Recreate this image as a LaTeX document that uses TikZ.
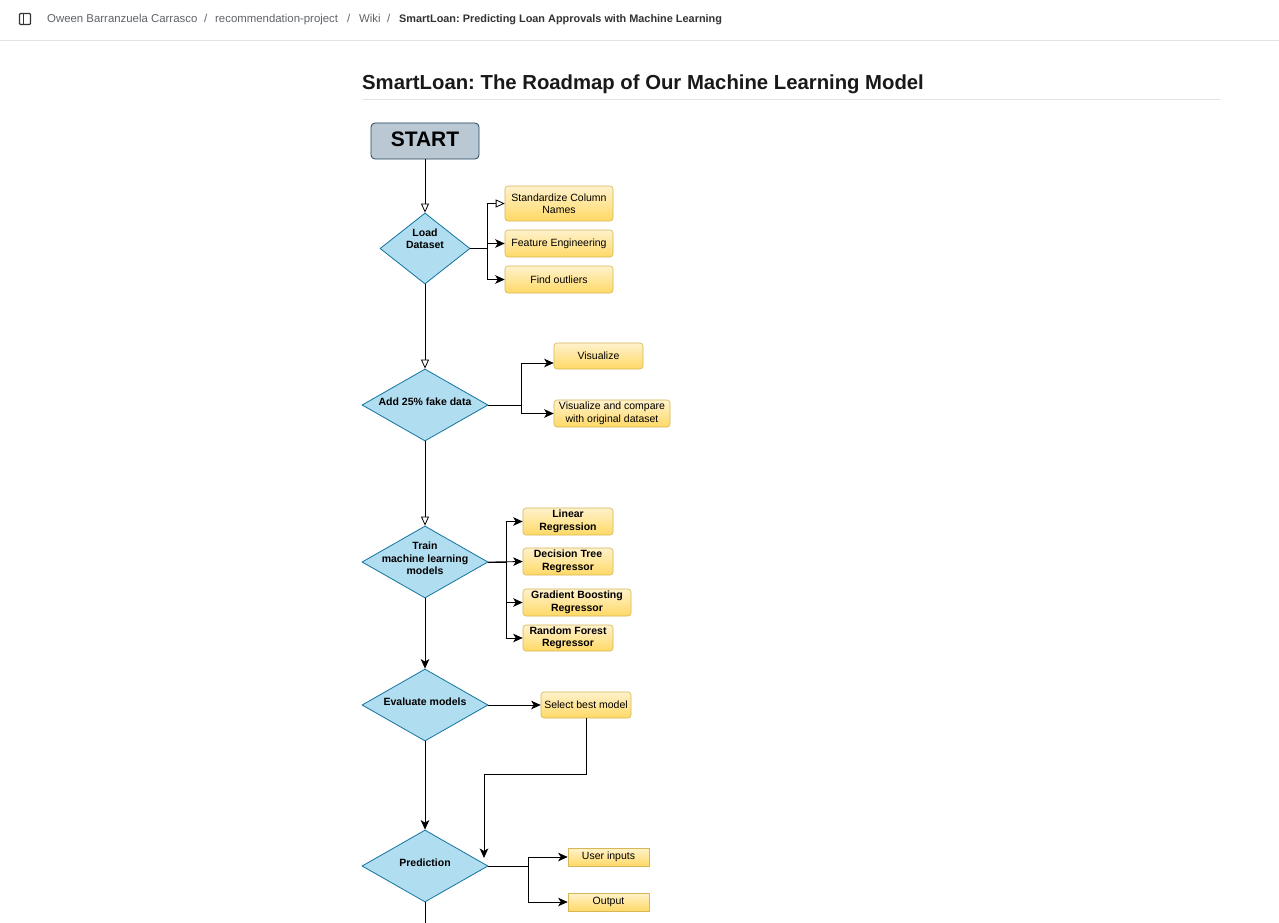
\documentclass[tikz,border=0pt]{standalone}
\usepackage{fontspec}
\setmainfont{Liberation Sans}
\usetikzlibrary{arrows.meta,shapes.geometric,calc}
\definecolor{diaFill}{HTML}{B1DDF0}
\definecolor{diaStroke}{HTML}{10739E}
\definecolor{startFill}{HTML}{BAC8D3}
\definecolor{startStroke}{HTML}{23445D}
\definecolor{yTop}{HTML}{FFF2CC}
\definecolor{yBot}{HTML}{FFD966}
\definecolor{yStroke}{HTML}{D6B656}
\definecolor{crumb}{HTML}{5F6368}
\definecolor{crumbDark}{HTML}{333333}
\definecolor{rule}{HTML}{E3E3E3}
\frenchspacing
\begin{document}
\begin{tikzpicture}[x=1pt,y=-1pt,
  dia/.style={diamond, draw=diaStroke, fill=diaFill, line width=0.8pt, inner sep=0pt, minimum width=126pt, minimum height=72pt},
  dlabel/.style={align=center, font=\fontsize{10.5}{12.5}\selectfont\bfseries},
  ybox/.style={rectangle, rounded corners=3pt, draw=yStroke, top color=yTop, bottom color=yBot, line width=0.6pt, inner sep=0pt, align=center, font=\fontsize{10.5}{12.5}\selectfont},
  ybold/.style={ybox, font=\fontsize{10.5}{12.5}\selectfont\bfseries},
  yflat/.style={ybox, rounded corners=0pt},
  ln/.style={draw=black, line width=0.8pt},
  openarr/.style={ln, -{Triangle[length=9pt,width=8pt,fill=white,line width=0.8pt]}},
  fillarr/.style={ln, -{Stealth[length=9.5pt,width=8.5pt,inset=2.5pt]}},
  crumbtxt/.style={anchor=base west, inner sep=0pt, font=\fontsize{11.4}{13}\selectfont, text=crumb},
]
\useasboundingbox (0,0) rectangle (1279,923);
\fill[white] (0,0) rectangle (1279,923);

% header
\draw[crumbDark, line width=1.2pt, rounded corners=1pt] (19.5,13.5) rectangle (30.5,24.5);
\draw[crumbDark, line width=1.2pt] (23.5,13.5) -- (23.5,24.5);
\node[crumbtxt] (c1) at (47,23) {Oween Barranzuela Carrasco};
\node[crumbtxt] (s1) at (204,23) {/};
\node[crumbtxt] (c2) at (215,23) {recommendation-project};
\node[crumbtxt] (s2) at (347,23) {/};
\node[crumbtxt] (c3) at (359,23) {Wiki};
\node[crumbtxt] (s3) at (387,23) {/};
\node[crumbtxt, text=crumbDark, font=\fontsize{10.9}{13}\selectfont\bfseries] (c4) at (399,23) {SmartLoan: Predicting Loan Approvals with Machine Learning};
\draw[rule, line width=1pt] (0,40.5) -- (1279,40.5);

% title
\node[anchor=base west, inner sep=0pt, text=black!90, font=\fontsize{20.3}{24}\selectfont\bfseries] (title) at (362,90) {SmartLoan: The Roadmap of Our Machine Learning Model};
\draw[rule, line width=1pt] (362,99.5) -- (1220,99.5);

% start
\node[rectangle, rounded corners=4pt, draw=startStroke, fill=startFill, line width=0.8pt, minimum width=108pt, minimum height=36pt, inner sep=0pt] (start) at (425,141) {};
\node[inner sep=0pt, font=\fontsize{21}{24}\selectfont\bfseries] (starttxt) at (425,139) {START};

% load dataset
\node[dia, minimum width=90pt, minimum height=71pt, label={[dlabel, yshift=10pt]center:Load\\Dataset}] (load) at (425,248.5) {};
\node[ybox, minimum width=108pt, minimum height=35pt] (std) at (559,203.5) {Standardize Column\\Names};
\node[ybox, minimum width=108pt, minimum height=27pt] (fe) at (559,243.5) {Feature Engineering};
\node[ybox, minimum width=108pt, minimum height=27pt] (fo) at (559,279.5) {Find outliers};
\coordinate (j1) at (487,248.5);
\draw[openarr] (start.south) -- (load.north);
\draw[openarr] (load.east) -- (j1) |- (std.west);
\draw[fillarr] (load.east) -- (j1) |- (fe.west);
\draw[fillarr] (load.east) -- (j1) |- (fo.west);

% fake data
\node[dia, label={[dlabel, yshift=3pt]center:Add 25\% fake data}] (fake) at (425,405) {};
\node[ybox, minimum width=89pt, minimum height=26pt] (vis) at (598.5,356) {Visualize};
\node[ybox, minimum width=116pt, minimum height=27pt] (vcmp) at (612,413.5) {Visualize and compare\\with original dataset};
\coordinate (j2) at (521,405);
\draw[openarr] (load.south) -- (fake.north);
\draw[fillarr] (fake.east) -- (j2) |- ([yshift=-7pt]vis.west);
\draw[fillarr] (fake.east) -- (j2) |- (vcmp.west);

% train
\node[dia, label={[dlabel, yshift=3.5pt]center:Train\\machine learning\\models}] (train) at (425,562) {};
\node[ybold, minimum width=90pt, minimum height=27pt] (lr) at (568,521.5) {Linear\\Regression};
\node[ybold, minimum width=90pt, minimum height=27pt] (dt) at (568,561.5) {Decision Tree\\Regressor};
\node[ybold, minimum width=108pt, minimum height=27pt] (gb) at (577,602.5) {Gradient Boosting\\Regressor};
\node[ybold, minimum width=90pt, minimum height=26pt] (rf) at (568,638) {Random Forest\\Regressor};
\coordinate (j3) at (506,562);
\draw[openarr] (fake.south) -- (train.north);
\draw[fillarr] (train.east) -- (j3) |- (lr.west);
\draw[fillarr] (train.east) -- (dt.west);
\draw[fillarr] (train.east) -- (j3) |- (gb.west);
\draw[fillarr] (train.east) -- (j3) |- (rf.west);

% evaluate
\node[dia, label={[dlabel, yshift=3pt]center:Evaluate models}] (eval) at (425,705) {};
\node[ybox, minimum width=90pt, minimum height=26pt] (sel) at (586,705) {Select best model};
\draw[fillarr] (train.south) -- (eval.north);
\draw[fillarr] (eval.east) -- (sel.west);

% prediction
\node[dia, label={[dlabel, yshift=3.5pt]center:Prediction}] (pred) at (425,866) {};
\node[yflat, minimum width=81pt, minimum height=18pt, text depth=0pt] (ui) at (608.5,857) {\raisebox{3pt}{User inputs}};
\node[yflat, minimum width=81pt, minimum height=18pt, text depth=0pt] (out) at (608.5,902) {\raisebox{3pt}{Output}};
\coordinate (k1) at (586,774.5);
\coordinate (predIn) at (484,858);
\coordinate (j4) at (528,866);
\coordinate (bot) at (425,923);
\draw[fillarr] (eval.south) -- (pred.north);
\draw[fillarr] (sel.south) -- (k1) -| (predIn);
\draw[fillarr] (pred.east) -- (j4) |- (ui.west);
\draw[fillarr] (pred.east) -- (j4) |- (out.west);
\draw[ln] (pred.south) -- (bot);
\end{tikzpicture}
\end{document}
